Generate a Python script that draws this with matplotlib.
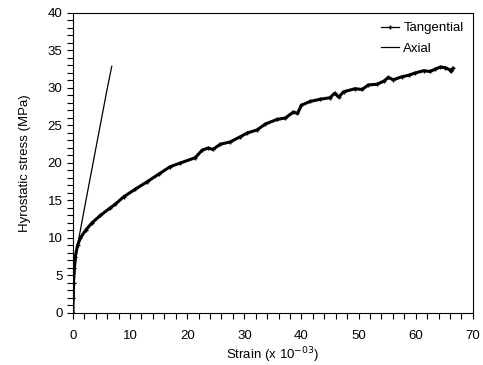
import matplotlib
matplotlib.use("Agg")
import matplotlib.pyplot as plt
from matplotlib.ticker import MultipleLocator

plt.rcParams["font.family"] = ["Liberation Sans", "DejaVu Sans"]
plt.rcParams["font.size"] = 9.5

# Tangential strain (x 10^-3) vs hydrostatic stress (MPa)
tan_strain = [0.0, 0.05, 0.1, 0.2, 0.4, 0.8, 1.3, 2.2, 3.3, 4.8, 6.5, 7.4, 8.9,
              10.9, 13.0, 15.0, 17.0, 18.8, 21.4, 22.6, 23.7, 24.5, 25.8, 27.5,
              29.3, 30.5, 32.2, 33.7, 35.7, 37.2, 38.6, 39.3, 40.0, 41.5, 43.3,
              45.0, 45.8, 46.5, 47.4, 49.4, 50.6, 51.7, 53.2, 54.4, 55.2, 56.1,
              57.6, 58.8, 59.9, 61.4, 62.5, 63.4, 64.3, 65.2, 66.0, 66.2, 66.5]
tan_stress = [0.0, 2.0, 4.0, 6.0, 7.5, 9.0, 10.0, 11.0, 12.0, 13.0, 14.0, 14.5, 15.5,
              16.5, 17.5, 18.5, 19.5, 20.0, 20.7, 21.7, 22.0, 21.8, 22.5, 22.8,
              23.5, 24.0, 24.4, 25.2, 25.8, 26.0, 26.8, 26.6, 27.7, 28.2, 28.5,
              28.7, 29.3, 28.8, 29.5, 29.9, 29.8, 30.4, 30.5, 30.9, 31.4, 31.1,
              31.5, 31.7, 32.0, 32.3, 32.2, 32.5, 32.8, 32.7, 32.4, 32.2, 32.6]

# Axial
ax_strain = [0.0, 0.3, 0.7, 1.05, 2.0, 3.0, 4.0, 5.0, 6.0, 6.8]
ax_stress = [0.0, 5.0, 8.5, 10.0, 13.9, 17.9, 21.9, 25.9, 29.9, 32.9]

fig = plt.figure(figsize=(4.83, 3.65), dpi=100)
ax = fig.add_axes([0.151, 0.1425, 0.828, 0.822])

ax.plot(ax_strain, ax_stress, color="black", linewidth=0.9, label="Axial")
ax.plot(tan_strain, tan_stress, color="black", linewidth=2.2,
        marker="+", markersize=3, label="Tangential")

ax.set_xlim(0, 70)
ax.set_ylim(0, 40)
ax.xaxis.set_major_locator(MultipleLocator(10))
ax.xaxis.set_minor_locator(MultipleLocator(2))
ax.yaxis.set_major_locator(MultipleLocator(5))
ax.yaxis.set_minor_locator(MultipleLocator(1))
ax.tick_params(which="both", direction="out", length=4, width=0.8)
ax.tick_params(axis="x", pad=8)

ax.set_xlabel("Strain (x 10$^{-03}$)", labelpad=3)
ax.set_ylabel("Hyrostatic stress (MPa)", labelpad=12)

handles, labels = ax.get_legend_handles_labels()
leg = ax.legend(handles[::-1], labels[::-1], loc="upper right", frameon=False,
                handlelength=1.4, handletextpad=0.3, labelspacing=0.6,
                borderaxespad=0.3)
leg.legend_handles[0].set_linewidth(0.9)

fig.savefig("out.png", dpi=100)
